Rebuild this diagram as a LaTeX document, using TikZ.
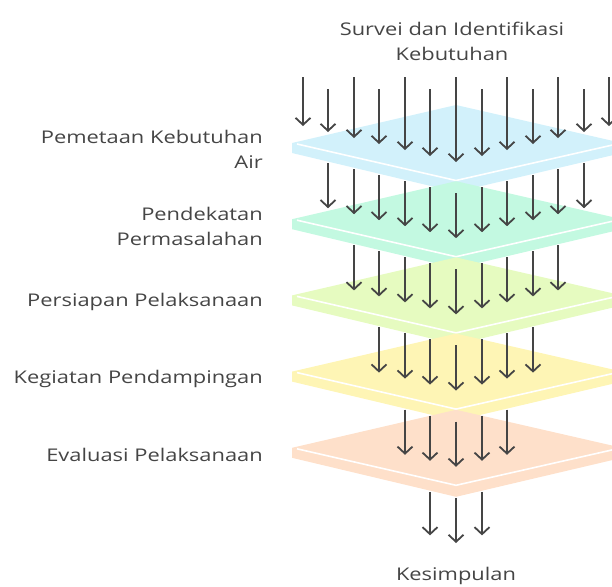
\documentclass[tikz,border=0pt]{standalone}
\usepackage{fontspec}
\setmainfont{Open Sans}[FakeStretch=1.25]
\usetikzlibrary{arrows.meta}
\definecolor{ink}{HTML}{454545}
\definecolor{layA}{HTML}{D2F1FB}
\definecolor{layB}{HTML}{C3F9E1}
\definecolor{layC}{HTML}{E6FBC0}
\definecolor{layD}{HTML}{FEF5B5}
\definecolor{layE}{HTML}{FEE0CA}
\tikzset{
  flow/.style={draw=ink, line width=2pt, -{Straight Barb[length=7pt,width=15pt,line width=1.8pt]}},
  lbl/.style={text=ink, font=\fontsize{17.5}{25}\selectfont, align=right, anchor=east, inner sep=0pt},
  ttl/.style={text=ink, font=\fontsize{17.5}{25}\selectfont, align=center, inner sep=0pt}
}
\newcommand\drawlayer[2]{%
  \fill[#2] (292,#1) -- (456,#1-38) -- (622,#1) -- (622,#1+10) -- (456,#1+49) -- (292,#1+10) -- cycle;
  \draw[white, line width=1.6pt] (297,#1+1) -- (456,#1+37.5) -- (617,#1+1);
}
\begin{document}
\begin{tikzpicture}[x=1pt,y=-1pt]
\useasboundingbox (0,0) rectangle (612,586);
\begin{scope}
\clip (0,0) rectangle (612,586);
\foreach \k/\col/\n in {0/layA/6,1/layB/5,2/layC/4,3/layD/3,4/layE/2} {
  \pgfmathsetmacro\cc{143+76.2*\k}
  \drawlayer{\cc}{\col}
  \foreach \j in {-\n,...,\n} {
    \pgfmathsetmacro\dx{abs(25.5*\j)}
    \pgfmathsetmacro\xx{456+round(25.5*\j)}
    \pgfmathsetmacro\ys{\k==0 ? (mod(abs(\j),2)==1 ? 89 : 77) : (143+76.2*(\k-1)+50-0.235*\dx)}
    \pgfmathsetmacro\ye{143+76.2*\k+19-0.235*\dx}
    \draw[flow] (\xx,\ys) -- (\xx,\ye);
  }
}
\foreach \j in {-1,0,1} {
  \pgfmathsetmacro\dx{abs(25.5*\j)}
  \pgfmathsetmacro\xx{456+round(25.5*\j)}
  \pgfmathsetmacro\ys{143+76.2*4+50-0.235*\dx}
  \pgfmathsetmacro\ye{543-0.3*\dx}
  \draw[flow] (\xx,\ys) -- (\xx,\ye);
}
\end{scope}
\node[ttl] (top) at (452,41) {Survei dan Identifikasi\\Kebutuhan};
\node[ttl] (end) at (456,576) {Kesimpulan};
\node[lbl] (l1) at (263,149) {Pemetaan Kebutuhan\\Air};
\node[lbl] (l2) at (263,226) {Pendekatan\\Permasalahan};
\node[lbl] (l3) at (263,302) {Persiapan Pelaksanaan};
\node[lbl] (l4) at (263,379) {Kegiatan Pendampingan};
\node[lbl] (l5) at (263,455) {Evaluasi Pelaksanaan};
\end{tikzpicture}
\end{document}
